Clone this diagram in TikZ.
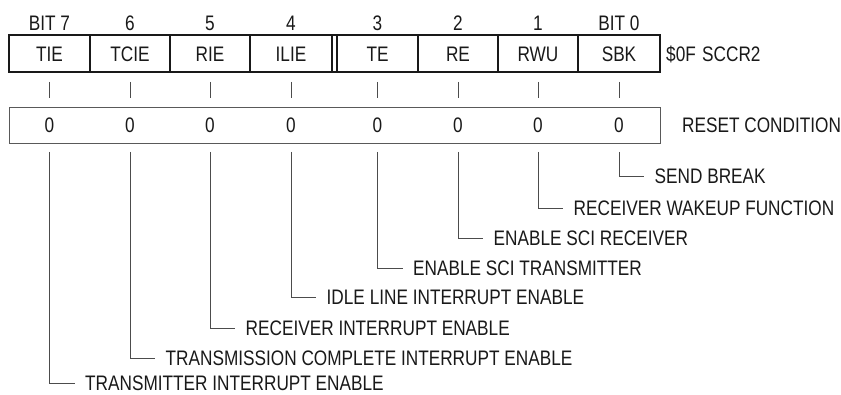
\documentclass[tikz,border=0pt]{standalone}
\usepackage{fontspec}
\setmainfont{Liberation Sans}[FakeStretch=0.82]
\begin{document}
\begin{tikzpicture}[x=1pt,y=-1pt,
  txt/.style={inner sep=0pt, font=\fontsize{21}{24}\selectfont, text=black!90},
  lab/.style={txt, anchor=west, inner xsep=10.5pt, inner ysep=0pt},
  frame/.style={line width=1.8pt, black!90},
  resetbox/.style={line width=0.9pt, black!65},
  tick/.style={line width=0.9pt, black!70},
  conn/.style={line width=0.9pt, black!70}]
\useasboundingbox (0,0) rectangle (841,395);
% register frame
\draw[frame] (9,35) rectangle (660,72);
\foreach \d in {90,170,250,332,337,418,498,578}
  \draw[frame] (\d,35) -- (\d,72);
\draw[resetbox] (9,107) rectangle (660,143);
% bits
\foreach \n/\x/\bit/\name in {7/49.5/BIT 7/TIE, 6/130/6/TCIE, 5/210/5/RIE, 4/291/4/ILIE,
  3/377.5/3/TE, 2/458/2/RE, 1/538/1/RWU, 0/619/BIT 0/SBK}{
  \node[txt] (b\n) at (\x,23) {\bit};
  \node[txt] (f\n) at (\x,54) {\name};
  \node[txt] (z\n) at (\x,125) {0};
  \coordinate (ta\n) at (\x,82);
  \coordinate (tb\n) at (\x,98);
  \draw[tick] (ta\n) -- (tb\n);
  \coordinate (v\n) at (\x,152);
}
\node[txt, anchor=west] (addr) at (666,54) {\$0F};
\node[txt, anchor=west] (reg) at (702,54) {SCCR2};
\node[txt, anchor=west] (reset) at (682,125) {RESET CONDITION};
% descriptions
\foreach \n/\x/\y/\t in {0/619/176/SEND BREAK, 1/538/208/RECEIVER WAKEUP FUNCTION,
  2/458/238/ENABLE SCI RECEIVER, 3/377.5/268/ENABLE SCI TRANSMITTER,
  4/291/297/IDLE LINE INTERRUPT ENABLE, 5/210/328/RECEIVER INTERRUPT ENABLE,
  6/130/358/TRANSMISSION COMPLETE INTERRUPT ENABLE, 7/49.5/383/TRANSMITTER INTERRUPT ENABLE}{
  \node[lab] (d\n) at (\x+25,\y) {\t};
  \draw[conn] (v\n) |- (d\n.west);
}
\end{tikzpicture}
\end{document}
